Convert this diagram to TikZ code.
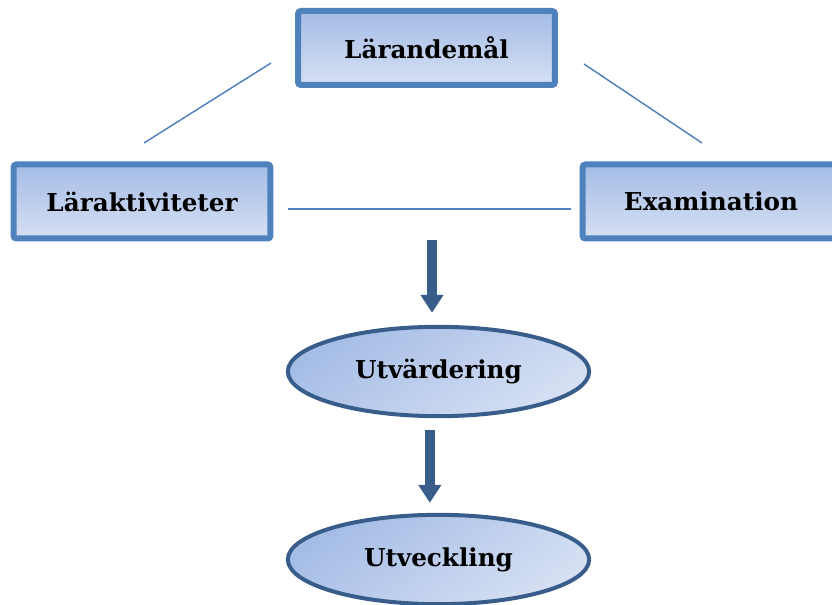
\documentclass[tikz,border=0pt]{standalone}
\usepackage{fontspec}
\setmainfont{DejaVu Serif}
\usetikzlibrary{positioning, arrows.meta, shapes.geometric}

\definecolor{boxline}{RGB}{79,129,189}
\definecolor{ovalline}{RGB}{56,93,138}
\definecolor{fillTop}{RGB}{164,188,230}
\definecolor{fillBot}{RGB}{214,224,243}

\begin{document}
\begin{tikzpicture}[
	x=0.75pt, y=-0.75pt,
	font=\bfseries\fontsize{18.5}{22}\selectfont,
	% Define styles
	goalbox/.style={rectangle, draw=boxline, line width=4.5pt, rounded corners=2pt, top color=fillTop, bottom color=fillBot, minimum width=192.5pt, minimum height=55.5pt, inner sep=0pt},
	oval/.style={ellipse, draw=ovalline, line width=3pt, left color=fillTop, right color=fillBot, shading angle=35, minimum width=226pt, minimum height=67pt, inner sep=0pt},
	link/.style={boxline, line width=1.1pt},
	flow/.style={-{Triangle[width=16.5pt, length=13.5pt]}, ovalline, line width=7.5pt}
	]
	\useasboundingbox (0,0) rectangle (832,605);
	
	% 1. Alignment triangle
	\node[goalbox] (goal) at (426.5,48) {Lärandemål};
	\node[goalbox] (activity) at (142,201.5) {Läraktiviteter};
	\node[goalbox] (exam) at (711,201.5) {Examination};
	
	% Loose links between the boxes
	\coordinate (goalL) at (271,63);
	\coordinate (actR) at (144,143);
	\coordinate (goalR) at (584,64);
	\coordinate (examL) at (702,143);
	\coordinate (midL) at (288,209);
	\coordinate (midR) at (571,209);
	\draw[link] (goalL) -- (actR);
	\draw[link] (goalR) -- (examL);
	\draw[link] (midL) -- (midR);
	
	% 2. Follow-up
	\node[oval] (evaluation) at (438.5,371.5) {Utvärdering};
	\node[oval] (development) at (438.5,559.5) {Utveckling};
	
	% Flow arrows
	\coordinate (start) at (432,240);
	\draw[flow, shorten >=9pt] (start) -- (start |- evaluation.north);
	\draw[flow, shorten <=9pt, shorten >=7.5pt] ([xshift=-6.5pt]evaluation.south) -- ([xshift=-6.5pt]development.north);
\end{tikzpicture}
\end{document}
